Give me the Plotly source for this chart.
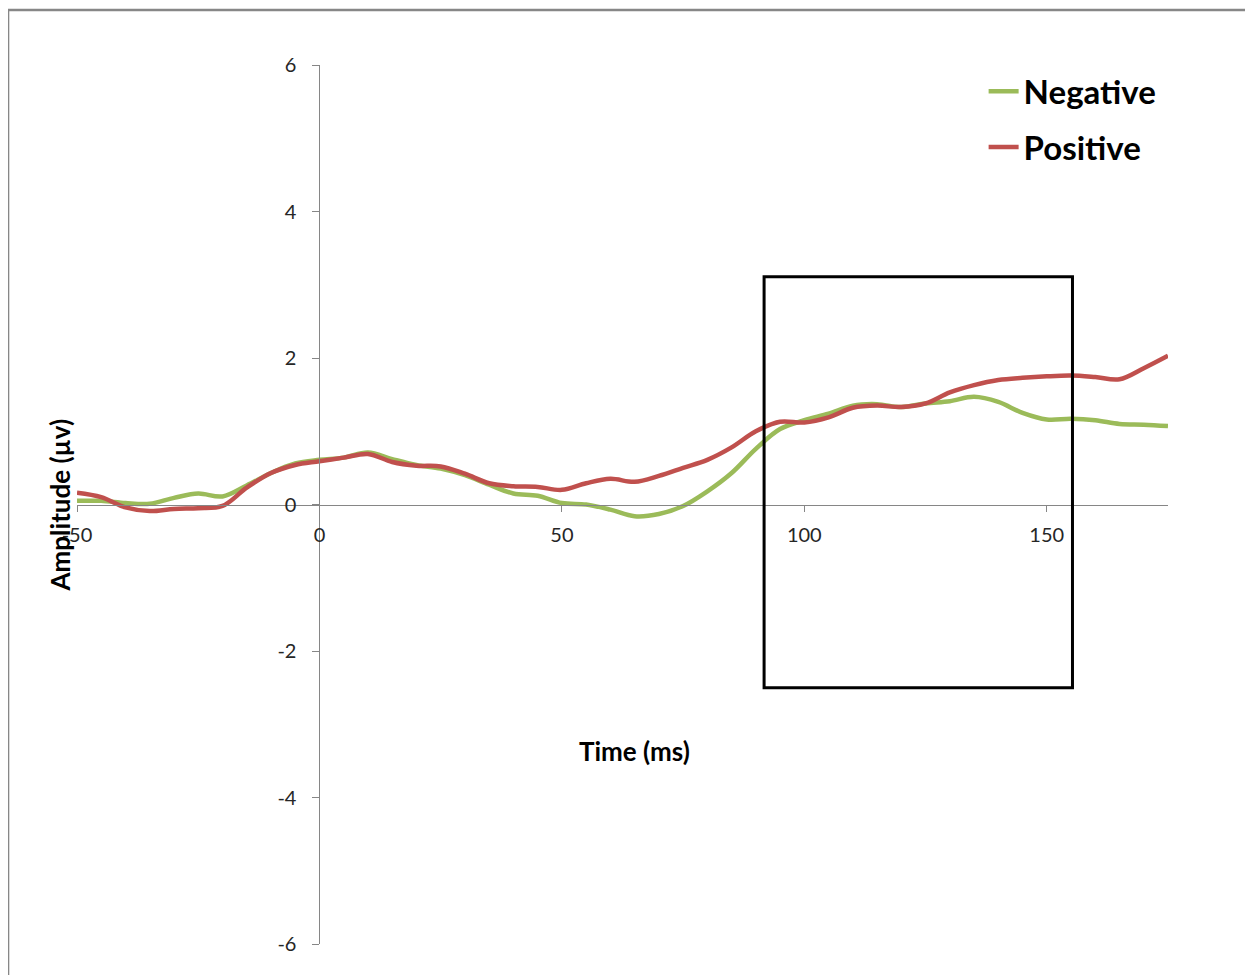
import plotly.graph_objects as go

time_ms = list(range(-50, 180, 5))
negative = [0.05, 0.05, 0.02, 0.01, 0.09, 0.15, 0.11, 0.26, 0.43, 0.56,
            0.61, 0.64, 0.71, 0.62, 0.54, 0.49, 0.40, 0.27, 0.15, 0.12,
            0.02, 0.00, -0.07, -0.16, -0.13, -0.02, 0.18, 0.43, 0.76, 1.03,
            1.15, 1.24, 1.35, 1.37, 1.33, 1.38, 1.41, 1.47, 1.40, 1.25,
            1.16, 1.17, 1.15, 1.10, 1.09, 1.07]
positive = [0.16, 0.10, -0.04, -0.09, -0.06, -0.05, -0.02, 0.23, 0.43, 0.54,
            0.59, 0.64, 0.69, 0.58, 0.53, 0.52, 0.42, 0.29, 0.25, 0.24,
            0.20, 0.29, 0.35, 0.31, 0.39, 0.50, 0.61, 0.78, 1.00, 1.13,
            1.12, 1.19, 1.32, 1.35, 1.33, 1.38, 1.53, 1.63, 1.70, 1.73,
            1.75, 1.76, 1.74, 1.71, 1.86, 2.03]
x_ticks = [-50, 0, 50, 100, 150]
x_tick_labels = ["-50", "0", "50", "100", "150"]
y_ticks = [-6, -4, -2, 0, 2, 4, 6]
y_tick_labels = ["-6", "-4", "-2", "0", "2", "4", "6"]
box_x = [91.7, 155.3]
box_y = [-2.5, 3.11]

FONT = "Lato"
fig = go.Figure()
fig.add_trace(go.Scatter(x=time_ms, y=negative, mode="lines", name="Negative",
                         legendgroup="a",
                         line=dict(color="#9BBB59", width=4.5, shape="spline", smoothing=1.0)))
fig.add_trace(go.Scatter(x=time_ms, y=positive, mode="lines", name="Positive",
                         legendgroup="b",
                         line=dict(color="#C0504D", width=4.5, shape="spline", smoothing=1.0)))

fig.add_shape(type="rect", xref="x", yref="y", x0=box_x[0], x1=box_x[1],
              y0=box_y[0], y1=box_y[1], line=dict(color="black", width=3))
# outer chart frame (partly cropped)
fig.add_shape(type="rect", xref="paper", yref="paper", x0=-0.0632, x1=1.3,
              y0=-0.3, y1=1.0625, line=dict(color="#878787", width=2.5), layer="below")

fig.add_annotation(text="<b>Time (ms)</b>", xref="paper", yref="paper",
                   x=0.511, y=0.219, xanchor="center", yanchor="middle", showarrow=False,
                   font=dict(family=FONT, size=26, color="black"))
fig.add_annotation(text="<b>Amplitude (µv)</b>", xref="paper", yref="paper",
                   x=-0.0156, y=0.5, xanchor="center", yanchor="middle",
                   showarrow=False, textangle=-90,
                   font=dict(family=FONT, size=26, color="black"))

fig.update_layout(
    width=1245, height=967,
    margin=dict(l=69, r=85, t=57, b=31),
    paper_bgcolor="white", plot_bgcolor="white",
    font=dict(family=FONT, size=20, color="#262626"),
    showlegend=True,
    legend=dict(x=0.831, y=1.002, xanchor="left", yanchor="top",
                font=dict(family=FONT, size=33, color="black", weight="bold"),
                tracegroupgap=10, bgcolor="rgba(0,0,0,0)"),
    xaxis=dict(range=[-50, 175], tickvals=x_ticks, ticktext=x_tick_labels,
               ticks="outside", ticklen=6,
               tickcolor="#868686", showline=True, linecolor="#868686", linewidth=1,
               showgrid=False, zeroline=False, anchor="free", position=0.5,
               ticklabelstandoff=6, tickfont=dict(family=FONT, size=20, color="#262626")),
    yaxis=dict(range=[-6, 6], tickvals=y_ticks, ticktext=y_tick_labels,
               ticks="outside", ticklen=7,
               tickcolor="#868686", showline=True, linecolor="#868686", linewidth=1,
               showgrid=False, zeroline=False, anchor="free", position=50/225,
               ticklabelstandoff=12, tickfont=dict(family=FONT, size=20, color="#262626")),
)
fig.write_html("out.html")
